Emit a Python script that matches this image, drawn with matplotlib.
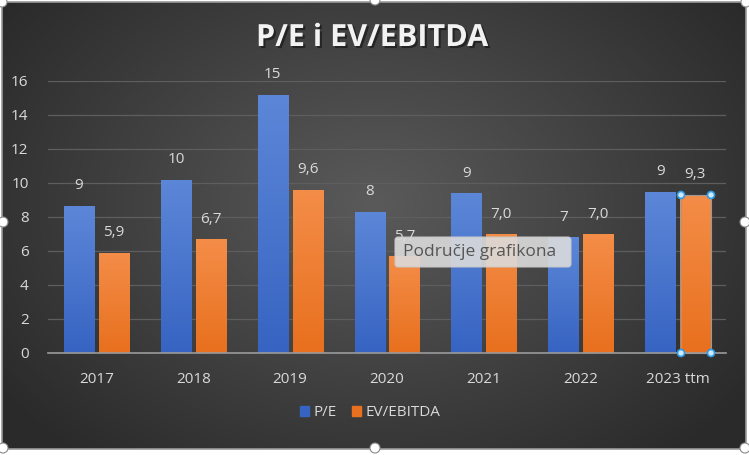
import numpy as np
import matplotlib
matplotlib.use('Agg')
import matplotlib.pyplot as plt
import matplotlib.patheffects as pe_fx
from matplotlib.patches import Rectangle, FancyBboxPatch, Circle
from matplotlib.colors import LinearSegmentedColormap

# ─── DATA ────────────────────────────────────────────────────────────────────
years = ['2017', '2018', '2019', '2020', '2021', '2022', '2023 ttm']
pe = [8.65, 10.2, 15.2, 8.3, 9.4, 6.8, 9.5]
ev_ebitda = [5.9, 6.7, 9.6, 5.7, 7.0, 7.0, 9.3]
pe_labels = ['9', '10', '15', '8', '9', '7', '9']
ev_labels = ['5,9', '6,7', '9,6', '5,7', '7,0', '7,0', '9,3']
yticks = [0, 2, 4, 6, 8, 10, 12, 14, 16]

W, H = 749, 455
FONT = ['Open Sans', 'DejaVu Sans']
TXT = '#d9d9d9'
BLUE = ('#5c87d8', '#3764c2')
ORANGE = ('#f48d48', '#e8701e')

plt.rcParams['font.family'] = FONT
fig = plt.figure(figsize=(W / 100, H / 100), dpi=100, facecolor='white')

# chart area background (radial gradient, dark edges)
bg = fig.add_axes([2 / W, 1 - 449 / H, 744 / W, 447 / H])
yy, xx = np.mgrid[0:1:300j, 0:1:500j]
rr = np.sqrt(((xx - 0.5) / 0.62) ** 2 + ((yy - 0.45) / 0.75) ** 2)
grad = np.clip(rr, 0, 1)
bg_cmap = LinearSegmentedColormap.from_list('bg', ['#5a5a5a', '#2a2a2a'])
bg.imshow(grad, cmap=bg_cmap, aspect='auto', extent=[0, 1, 0, 1], origin='upper')
bg.set_xlim(0, 1); bg.set_ylim(0, 1)
bg.set_xticks([]); bg.set_yticks([])
for s in bg.spines.values():
    s.set_color('#9a9a9a'); s.set_linewidth(1.2)

# plot area
ax = fig.add_axes([48 / W, 1 - 353 / H, 678 / W, 272 / H])
ax.set_facecolor('none')
x = np.arange(len(years))
bw = 0.31; off = 0.18
b1 = ax.bar(x - off, pe, bw, color=BLUE[1], zorder=3)
b2 = ax.bar(x + off, ev_ebitda, bw, color=ORANGE[1], zorder=3)

# vertical gradient on bars
for bars, (c_top, c_bot) in ((b1, BLUE), (b2, ORANGE)):
    cm = LinearSegmentedColormap.from_list('g', [c_top, c_bot])
    for r in bars:
        x0, y0 = r.get_x(), r.get_y()
        im = ax.imshow(np.linspace(0, 1, 100).reshape(-1, 1), cmap=cm, aspect='auto',
                       extent=[x0, x0 + r.get_width(), y0, y0 + r.get_height()],
                       origin='upper', zorder=3.5)
        im.set_clip_path(r)

ax.set_xlim(-0.5, len(years) - 0.5)
ax.set_ylim(0, 16)
ax.set_yticks(yticks)
ax.set_xticks(x)
ax.set_xticklabels(years)
ax.tick_params(axis='both', length=0, colors=TXT, labelsize=11)
ax.tick_params(axis='x', pad=14)
ax.tick_params(axis='y', pad=14)
ax.grid(axis='y', color='#5e5e5e', linewidth=0.9, zorder=0)
for s in ('top', 'right', 'left'):
    ax.spines[s].set_visible(False)
ax.spines['bottom'].set_color('#9a9a9a')
ax.spines['bottom'].set_linewidth(1.2)
ax.spines['bottom'].set_zorder(4)

for bars, labs in ((b1, pe_labels), (b2, ev_labels)):
    for r, lab in zip(bars, labs):
        ax.annotate(lab, (r.get_x() + r.get_width() / 2, r.get_height()),
                    xytext=(0, 9), textcoords='offset points', ha='center', va='bottom',
                    color=TXT, fontsize=11, zorder=5)

# title with soft shadow
fig.text(372 / W, 1 - 38 / H, 'P/E i EV/EBITDA', ha='center', va='center',
         fontsize=22, fontweight='bold', color='#f2f2f2',
         path_effects=[pe_fx.withSimplePatchShadow(offset=(1.5, -1.5), shadow_rgbFace='#111111', alpha=0.6)])

# legend
leg = fig.legend([Rectangle((0, 0), 1, 1, color=BLUE[1]), Rectangle((0, 0), 1, 1, color=ORANGE[1])],
                 ['P/E', 'EV/EBITDA'], loc='center', bbox_to_anchor=(370 / W, 1 - 413 / H),
                 ncol=2, frameon=False, handlelength=0.6, handleheight=0.6, handletextpad=0.3,
                 columnspacing=1.0, fontsize=11)
for t in leg.get_texts():
    t.set_color(TXT)

# tooltip
ov = fig.add_axes([0, 0, 1, 1], facecolor='none')
ov.set_xlim(0, W); ov.set_ylim(H, 0); ov.axis('off')
ov.add_patch(FancyBboxPatch((395, 237), 176, 30, boxstyle='round,pad=0,rounding_size=3',
                            facecolor='#dcdcdc', edgecolor='#c8c8c8', alpha=0.9, lw=0.8, zorder=6))
ov.text(403, 252, 'Područje grafikona', ha='left', va='center', color='#555555',
        fontsize=12.5, zorder=7)

# selection handles on chart border
for hx, hy in ((2, 2), (375, 0), (746, 2), (3, 222), (745, 222), (3, 448), (375, 448), (745, 448)):
    ov.add_patch(Circle((hx, hy), 5, facecolor='white', edgecolor='#8a8a8a', lw=0.8, zorder=8))
# selection handles on last EV/EBITDA bar
for hx, hy in ((681, 195), (711, 195), (681, 353), (711, 353)):
    ov.add_patch(Circle((hx, hy), 3.5, facecolor='#cfeaff', edgecolor='#2e9be6', lw=1.2, zorder=8))
ov.plot([681, 711, 711, 681, 681], [195, 195, 353, 353, 195], color='#9a9a9a', lw=0.8, zorder=7)

fig.savefig('out.png', dpi=100, facecolor='white')
